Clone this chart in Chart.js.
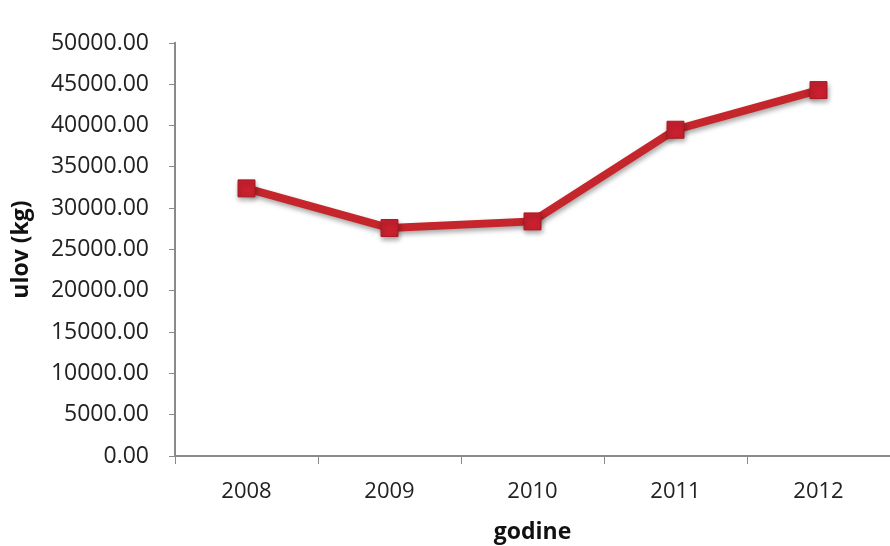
<!DOCTYPE html>
<html>
<head>
<meta charset="utf-8">
<script src="https://cdn.jsdelivr.net/npm/chart.js@4/dist/chart.umd.min.js"></script>
<style>
  html, body { margin: 0; padding: 0; background: #fff; overflow: hidden; }
  #wrap { width: 890px; height: 546px; }
</style>
</head>
<body>
<div id="wrap"><canvas id="c" width="890" height="546"></canvas></div>
<script>
// Annual catch (kg) by year
const years = ['2008', '2009', '2010', '2011', '2012'];
const catchKg = [32400, 27600, 28400, 39500, 44300];
const yTicks = [0, 5000, 10000, 15000, 20000, 25000, 30000, 35000, 40000, 45000, 50000];

const lineRed = '#c4262c';
const axisGrey = '#8a8a8a';
const textFont = "'Open Sans', 'Noto Sans', sans-serif";

// soft drop shadow beneath the series line and markers
const shadowPlugin = {
  id: 'seriesShadow',
  beforeDatasetsDraw(chart) {
    const ctx = chart.ctx;
    ctx.save();
    ctx.shadowColor = 'rgba(0,0,0,0.35)';
    ctx.shadowBlur = 5;
    ctx.shadowOffsetX = 1;
    ctx.shadowOffsetY = 3;
  },
  afterDatasetsDraw(chart) {
    chart.ctx.restore();
  }
};

new Chart(document.getElementById('c'), {
  type: 'line',
  data: {
    labels: years,
    datasets: [{
      data: catchKg,
      borderColor: lineRed,
      borderWidth: 8,
      backgroundColor: '#c8202e',
      pointStyle: 'rect',
      pointRadius: 12,
      pointBorderWidth: 1,
      pointBorderColor: '#a81a24',
      pointHoverRadius: 12,
      tension: 0
    }]
  },
  options: {
    responsive: false,
    animation: false,
    events: [],
    layout: { autoPadding: false, padding: { top: 43, right: -3, left: 0, bottom: 0 } },
    plugins: { legend: { display: false }, tooltip: { enabled: false } },
    scales: {
      x: {
        type: 'category',
        offset: true,
        grid: {
          offset: true,
          drawOnChartArea: false,
          drawTicks: true,
          tickLength: 8,
          color: axisGrey,
          tickColor: axisGrey
        },
        border: { display: true, color: axisGrey, width: 2 },
        ticks: {
          color: '#222',
          font: { family: textFont, size: 22 },
          padding: 15,
          maxRotation: 0
        },
        title: {
          display: true,
          text: 'godine',
          color: '#111',
          font: { family: textFont, size: 23, weight: 'bold' },
          padding: { top: 2, bottom: 0 }
        },
        afterFit(scale) {
          scale.height = 90;
          scale.paddingLeft = 0;
          scale.paddingRight = 0;
        }
      },
      y: {
        min: 0,
        max: 50000,
        afterBuildTicks(scale) { scale.ticks = yTicks.map(v => ({ value: v })); },
        grid: {
          drawOnChartArea: false,
          drawTicks: true,
          tickLength: 6,
          color: axisGrey,
          tickColor: axisGrey
        },
        border: { display: true, color: axisGrey, width: 2 },
        ticks: {
          color: '#222',
          font: { family: textFont, size: 23 },
          padding: 20,
          callback: v => Number(v).toFixed(2)
        },
        title: {
          display: true,
          text: 'ulov (kg)',
          color: '#111',
          font: { family: textFont, size: 23, weight: 'bold' },
          padding: { top: 8, bottom: 0 }
        },
        afterFit(scale) {
          scale.width = 175;
          scale.paddingTop = 0;
          scale.paddingBottom = 0;
        }
      }
    }
  },
  plugins: [shadowPlugin]
});
</script>
</body>
</html>
